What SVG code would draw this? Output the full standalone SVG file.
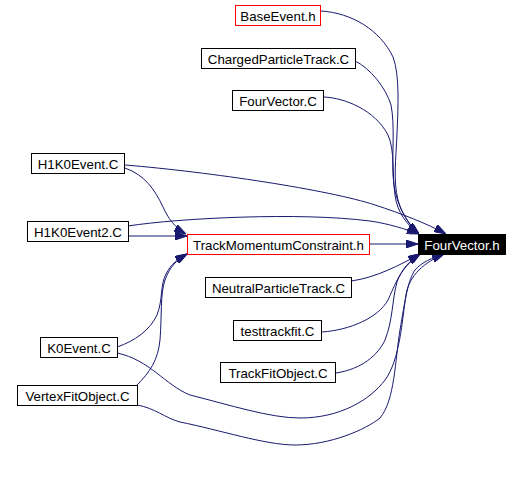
<svg xmlns="http://www.w3.org/2000/svg" width="521" height="489" viewBox="0 0 521 489">
<style>
.n rect{fill:#fff;stroke:#000;stroke-width:1}
.n.r rect{stroke:#ff0000}
.n.b rect{fill:#000}
.n text{font-family:"Liberation Sans",Arial,sans-serif;font-size:13.3px;text-anchor:middle;fill:#000}
.n.b text{fill:#fff}
#edges path{fill:none;stroke:#191970;stroke-width:1;marker-end:url(#ah)}
</style>
<defs>
<marker id="ah" viewBox="0 0 12 8" refX="12" refY="4" markerWidth="12" markerHeight="8" markerUnits="userSpaceOnUse" orient="auto">
<path d="M0,0 L12,4 L0,8 z" fill="#191970" stroke="#191970" stroke-width="1"/>
</marker>
</defs>
<rect width="521" height="489" fill="#fff"/>
<g id="edges">
<path d="M321,11 C352,13 380,30 393,57 C400,75 398,110 397,133 C396,160 393,180 398,200 C401,212 410,226 419,234"/>
<path d="M355,61 C370,68 386,88 391,105 C395,125 392,155 393,175 C394,200 405,222 419,234"/>
<path d="M324,97 C345,98 375,110 388,135 C395,150 392,175 395,195 C397,212 407,225 419,234"/>
<path d="M125,165 C210,172 330,190 375,205 C400,213 428,224 446,234"/>
<path d="M125,168 C145,175 155,190 163,207 C168,218 175,228 186,234"/>
<path d="M128,236 L187,236"/>
<path d="M128,226 C180,218 300,212 370,221 C390,224 405,229 419,234"/>
<path d="M369,244 L418,244"/>
<path d="M351,281 C375,278 400,265 420,254"/>
<path d="M322,332 C350,330 378,318 388,300 C395,285 400,268 420,254"/>
<path d="M336,373 C362,369 378,355 385,340 C393,320 392,300 397,282 C401,270 410,260 420,254"/>
<path d="M117,353 C150,360 165,385 190,395 C230,405 270,418 300,418 C340,418 370,400 385,380 C400,360 402,320 406,295 C409,275 425,262 444,254"/>
<path d="M137,405 C155,408 165,418 180,422 C220,430 265,445 295,445 C330,445 365,430 380,418 C395,400 395,360 400,330 C405,300 408,280 415,270 C422,262 432,258 444,254"/>
<path d="M117,347 C135,341 150,330 157,315 C163,300 160,285 166,274 C171,264 178,259 187,254"/>
<path d="M137,385 C150,372 158,360 160,340 C162,315 160,295 165,280 C170,266 177,260 187,254"/>
</g>
<g id="n_BaseEvent_h" class="n r"><rect x="235.5" y="5.5" width="85" height="20"/><text x="278" y="21">BaseEvent.h</text></g>
<g id="n_ChargedParticleTrack_C" class="n"><rect x="201.5" y="48.5" width="154" height="20"/><text x="278.5" y="64">ChargedParticleTrack.C</text></g>
<g id="n_FourVector_C" class="n"><rect x="232.5" y="90.5" width="91" height="20"/><text x="278" y="106">FourVector.C</text></g>
<g id="n_H1K0Event_C" class="n"><rect x="31.5" y="153.5" width="93" height="20"/><text x="78" y="169">H1K0Event.C</text></g>
<g id="n_H1K0Event2_C" class="n"><rect x="27.5" y="221.5" width="101" height="20"/><text x="78" y="237">H1K0Event2.C</text></g>
<g id="n_TrackMomentumConstraint_h" class="n r"><rect x="187.5" y="234.5" width="182" height="20"/><text x="278.5" y="250">TrackMomentumConstraint.h</text></g>
<g id="n_FourVector_h" class="n b"><rect x="418.5" y="234.5" width="87" height="20"/><text x="462" y="250">FourVector.h</text></g>
<g id="n_NeutralParticleTrack_C" class="n"><rect x="205.5" y="277.5" width="146" height="20"/><text x="278.5" y="293">NeutralParticleTrack.C</text></g>
<g id="n_testtrackfit_C" class="n"><rect x="233.5" y="320.5" width="88" height="20"/><text x="277.5" y="336">testtrackfit.C</text></g>
<g id="n_TrackFitObject_C" class="n"><rect x="220.5" y="362.5" width="115" height="20"/><text x="278" y="378">TrackFitObject.C</text></g>
<g id="n_K0Event_C" class="n"><rect x="40.5" y="337.5" width="77" height="20"/><text x="79" y="353">K0Event.C</text></g>
<g id="n_VertexFitObject_C" class="n"><rect x="17.5" y="385.5" width="120" height="20"/><text x="77.5" y="401">VertexFitObject.C</text></g>
</svg>
